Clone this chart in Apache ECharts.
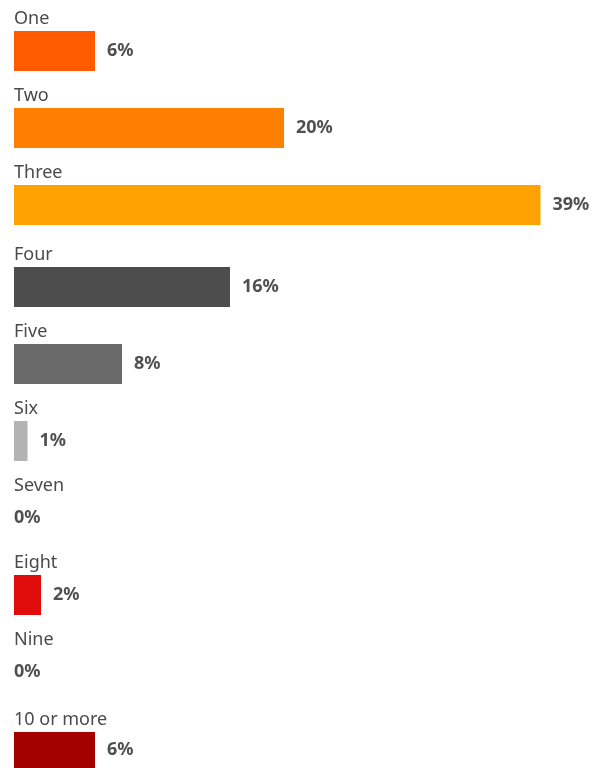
<!DOCTYPE html>
<html>
<head>
<meta charset="utf-8">
<script src="https://cdn.jsdelivr.net/npm/echarts@6/dist/echarts.min.js"></script>
<style>
  html, body { margin: 0; padding: 0; background: #fff; }
  #chart { width: 598px; height: 768px; }
</style>
</head>
<body>
<div id="chart"></div>
<script>
// Share of respondents by count
const categories = ['One', 'Two', 'Three', 'Four', 'Five', 'Six', 'Seven', 'Eight', 'Nine', '10 or more'];
const values = [6, 20, 39, 16, 8, 1, 0, 2, 0, 6];
const colors = ['#ff5a00', '#ff7f00', '#ffa100', '#4d4d4d', '#696969', '#b3b3b3', '#b3b3b3', '#e00c0c', '#e00c0c', '#a30000'];

// Top edge of each row's bar, in pixels
const rowTops = [31, 108, 185, 267, 344, 421, 498, 575, 652, 732];
const barHeight = 40;
const fontFamily = '"Noto Sans", sans-serif';

const grid = [], xAxis = [], yAxis = [], series = [];
categories.forEach((name, i) => {
  grid.push({ left: 14, width: 540, top: rowTops[i], height: barHeight });
  xAxis.push({
    gridIndex: i, type: 'value', min: 0, max: 40,
    show: false
  });
  yAxis.push({
    gridIndex: i, type: 'category', data: [name],
    name: name, nameLocation: 'end', nameGap: 3,
    nameTextStyle: { align: 'left', verticalAlign: 'bottom', fontFamily, fontSize: 18, color: '#4a4a4a' },
    axisLine: { show: false }, axisTick: { show: false }, axisLabel: { show: false }
  });
  series.push({
    type: 'bar', xAxisIndex: i, yAxisIndex: i,
    barWidth: barHeight, silent: true, animation: false,
    data: [values[i]],
    itemStyle: { color: colors[i] },
    label: {
      show: true, position: 'right',
      distance: values[i] === 0 ? 0 : 12,
      formatter: '{c}%',
      fontFamily, fontSize: 18, fontWeight: 'bold', color: '#505050'
    }
  });
});

const chart = echarts.init(document.getElementById('chart'));
chart.setOption({ animation: false, grid, xAxis, yAxis, series });
</script>
</body>
</html>
